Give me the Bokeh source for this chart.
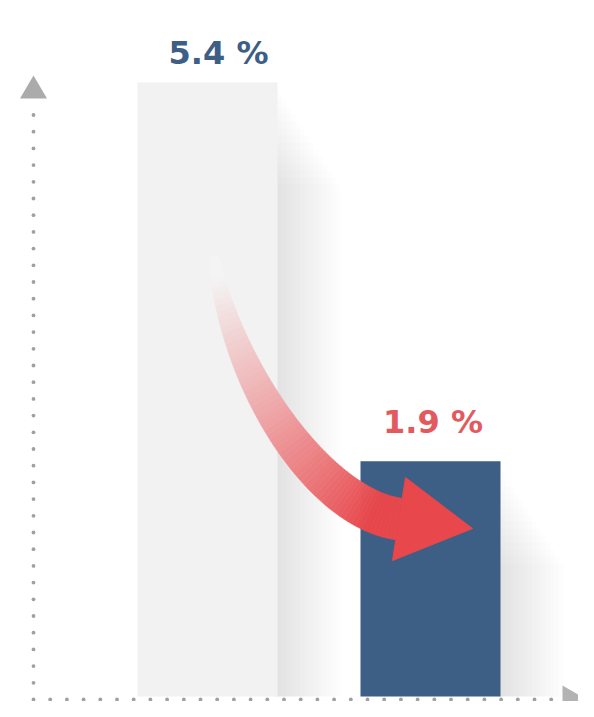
import numpy as np
from bokeh.plotting import figure
from bokeh.models import Range1d, ColumnDataSource
from bokeh.embed import file_html
from bokeh.resources import INLINE
from bokeh.core.properties import value

# ---------------- data ----------------
categories = ["Before", "After"]
values = [5.4, 1.9]                      # the percentages shown
labels = ["5.4 %", "1.9 %"]
bar_heights = [5.4, 2.07]                # drawn heights as read off the (not-to-scale) picture
bar_colors = ["#f2f2f2", "#3d5e85"]
label_colors = ["#3d5e85", "#e25a5e"]

# ---------------- layout helpers (screen pixels -> data units) ----------------
W, H = 578, 701
BASE_PX = 696.0            # screen y of value 0
UNIT_PX = (696.0 - 82.0) / 5.4
X0_PX = 207.0              # screen x of the first category
STEP_PX = 223.0            # pixels between categories


def x_of(px):
    return (np.asarray(px, dtype=float) - X0_PX) / STEP_PX


def y_of(py):
    return (BASE_PX - np.asarray(py, dtype=float)) / UNIT_PX


p = figure(width=W, height=H, output_backend="svg", toolbar_location=None,
           x_range=Range1d(float(x_of(0)), float(x_of(W))),
           y_range=Range1d(float(y_of(H)), float(y_of(0))),
           x_axis_location=None, y_axis_location=None, min_border=0)
p.grid.visible = False
p.outline_line_color = None
p.background_fill_color = "white"
p.border_fill_color = "white"

xs = np.arange(len(categories), dtype=float)
bar_w = 140.0 / STEP_PX

# ---------------- soft shadows right of the bars (widen downwards) ----------------
for i, h in enumerate(bar_heights):
    right = xs[i] + bar_w / 2
    for k in range(1, 15):
        p.quad(left=[right - 3 / STEP_PX], right=[right + k * 4.5 / STEP_PX],
               bottom=[0], top=[h - (4 + 7 * k) / UNIT_PX], fill_color="black",
               fill_alpha=0.0065, line_color=None)

# ---------------- bars ----------------
src = ColumnDataSource(dict(x=xs, top=bar_heights, color=bar_colors,
                            label=labels, lcolor=label_colors,
                            xo=[11, 2.5], yo=[-30, -39]))
p.vbar(x="x", top="top", bottom=0, width=bar_w, fill_color="color",
       line_color=None, source=src)

# ---------------- curved arrow (annotation) ----------------
P = np.array([[213, 255], [232, 380], [320, 508], [398.5, 518.5]], dtype=float)
N = 70
t = np.linspace(0, 1, N + 1)
B = ((1 - t) ** 3)[:, None] * P[0] + (3 * (1 - t) ** 2 * t)[:, None] * P[1] \
    + (3 * (1 - t) * t ** 2)[:, None] * P[2] + (t ** 3)[:, None] * P[3]
D = (3 * (1 - t) ** 2)[:, None] * (P[1] - P[0]) + (6 * (1 - t) * t)[:, None] * (P[2] - P[1]) \
    + (3 * t ** 2)[:, None] * (P[3] - P[2])
D /= np.linalg.norm(D, axis=1)[:, None]
nrm = np.stack([-D[:, 1], D[:, 0]], axis=1)
half = (42 - 32 * (1 - t) ** 2) / 2
L = B + nrm * half[:, None]
R = B - nrm * half[:, None]

red = np.array([232, 72, 76])
bg = np.array([244, 244, 244])
px_x, px_y, cols = [], [], []
for i in range(N):
    tm = (t[i] + t[i + 1]) / 2
    a = float(np.clip((tm - 0.06) * 1.2, 0, 1))
    c = (bg * (1 - a) + red * a).astype(int)
    poly = np.array([L[i], L[i + 1], R[i + 1], R[i]])
    px_x.append(list(x_of(poly[:, 0])))
    px_y.append(list(y_of(poly[:, 1])))
    cols.append("#%02x%02x%02x" % tuple(c))
p.patches(xs=px_x, ys=px_y, fill_color=cols, line_color=cols, line_width=0.6)

head = np.array([[405, 477], [472, 528], [392, 560]], dtype=float)
p.patch(x=list(x_of(head[:, 0])), y=list(y_of(head[:, 1])),
        fill_color="#e8474b", line_color="#e8474b", line_width=1, line_join="round")

# ---------------- value labels ----------------
p.text(x="x", y="top", text="label", x_offset="xo", y_offset="yo",
       text_color="lcolor", text_font=value("DejaVu Sans"),
       text_font_style="bold", text_font_size=value("32px"),
       text_align="center", text_baseline="alphabetic", source=src)

# ---------------- dotted axes with arrowheads ----------------
AX_X, AX_Y = 33.0, 699.0
vy = np.arange(AX_Y, 103, -16.7)
p.scatter(x=[float(x_of(AX_X))] * len(vy), y=list(y_of(vy)), size=3.8,
          marker="circle", fill_color="#a0a0a0", line_color=None)
hx = np.arange(AX_X + 16.7, 555, 16.7)
p.scatter(x=list(x_of(hx)), y=[float(y_of(AX_Y))] * len(hx), size=3.8,
          marker="circle", fill_color="#a0a0a0", line_color=None)

tri_up = np.array([[AX_X, 75], [AX_X - 13.5, 98], [AX_X + 13.5, 98]])
p.patch(x=list(x_of(tri_up[:, 0])), y=list(y_of(tri_up[:, 1])),
        fill_color="#ababab", line_color=None)
tri_rt = np.array([[562, AX_Y - 14], [562, AX_Y + 14], [586, AX_Y]])
p.patch(x=list(x_of(tri_rt[:, 0])), y=list(y_of(tri_rt[:, 1])),
        fill_color="#b3b3b3", line_color=None)

open("out.html", "w").write(file_html(p, INLINE))
